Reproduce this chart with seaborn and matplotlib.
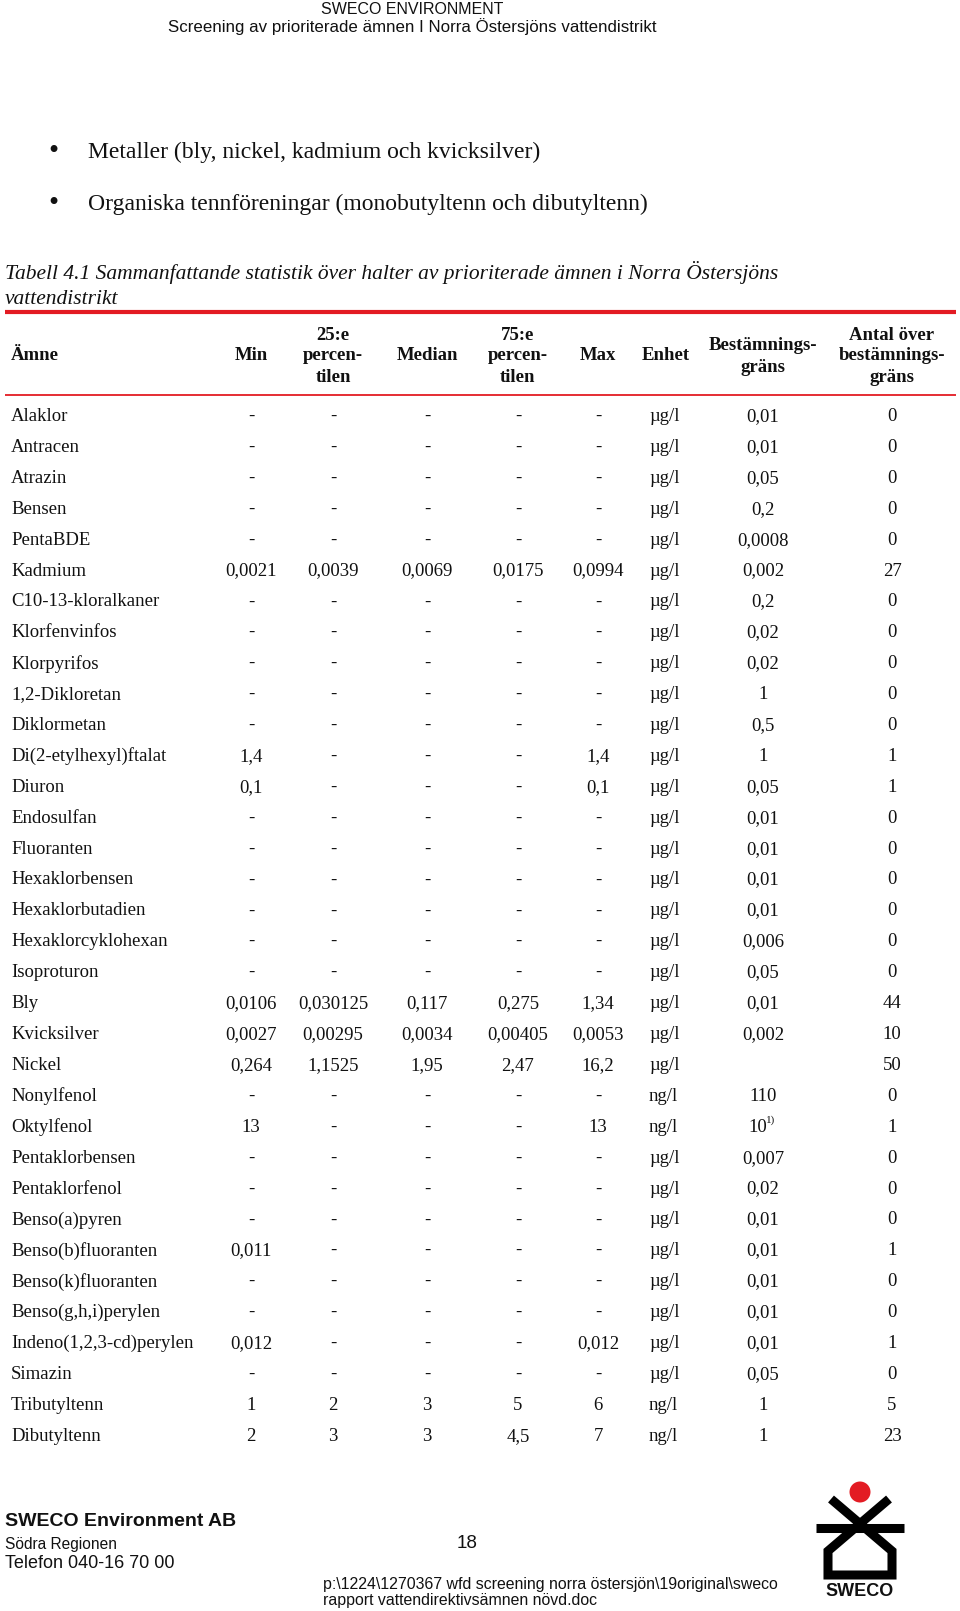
import matplotlib
matplotlib.use("Agg")
import matplotlib.pyplot as plt
from matplotlib import font_manager
from matplotlib.patches import Circle
import seaborn as sns

# ---------------- data ----------------
substances = ["Alaklor", "Antracen", "Atrazin", "Bensen", "PentaBDE", "Kadmium",
              "C10-13-kloralkaner", "Klorfenvinfos", "Klorpyrifos", "1,2-Dikloretan",
              "Diklormetan", "Di(2-etylhexyl)ftalat", "Diuron", "Endosulfan", "Fluoranten",
              "Hexaklorbensen", "Hexaklorbutadien", "Hexaklorcyklohexan", "Isoproturon",
              "Bly", "Kvicksilver", "Nickel", "Nonylfenol", "Oktylfenol", "Pentaklorbensen",
              "Pentaklorfenol", "Benso(a)pyren", "Benso(b)fluoranten", "Benso(k)fluoranten",
              "Benso(g,h,i)perylen", "Indeno(1,2,3-cd)perylen", "Simazin", "Tributyltenn",
              "Dibutyltenn"]
col_min = ["-", "-", "-", "-", "-", "0,0021", "-", "-", "-", "-", "-", "1,4", "0,1", "-", "-",
           "-", "-", "-", "-", "0,0106", "0,0027", "0,264", "-", "13", "-", "-", "-", "0,011",
           "-", "-", "0,012", "-", "1", "2"]
col_p25 = ["-", "-", "-", "-", "-", "0,0039", "-", "-", "-", "-", "-", "-", "-", "-", "-",
           "-", "-", "-", "-", "0,030125", "0,00295", "1,1525", "-", "-", "-", "-", "-", "-",
           "-", "-", "-", "-", "2", "3"]
col_median = ["-", "-", "-", "-", "-", "0,0069", "-", "-", "-", "-", "-", "-", "-", "-", "-",
              "-", "-", "-", "-", "0,117", "0,0034", "1,95", "-", "-", "-", "-", "-", "-",
              "-", "-", "-", "-", "3", "3"]
col_p75 = ["-", "-", "-", "-", "-", "0,0175", "-", "-", "-", "-", "-", "-", "-", "-", "-",
           "-", "-", "-", "-", "0,275", "0,00405", "2,47", "-", "-", "-", "-", "-", "-",
           "-", "-", "-", "-", "5", "4,5"]
col_max = ["-", "-", "-", "-", "-", "0,0994", "-", "-", "-", "-", "-", "1,4", "0,1", "-", "-",
           "-", "-", "-", "-", "1,34", "0,0053", "16,2", "-", "13", "-", "-", "-", "-",
           "-", "-", "0,012", "-", "6", "7"]
col_unit = ["µg/l"] * 22 + ["ng/l", "ng/l"] + ["µg/l"] * 8 + ["ng/l", "ng/l"]
col_limit = ["0,01", "0,01", "0,05", "0,2", "0,0008", "0,002", "0,2", "0,02", "0,02", "1",
             "0,5", "1", "0,05", "0,01", "0,01", "0,01", "0,01", "0,006", "0,05", "0,01",
             "0,002", "", "110", "10", "0,007", "0,02", "0,01", "0,01", "0,01", "0,01",
             "0,01", "0,05", "1", "1"]
limit_note = {23: "1)"}
col_count = ["0", "0", "0", "0", "0", "27", "0", "0", "0", "0", "0", "1", "1", "0", "0",
             "0", "0", "0", "0", "44", "10", "50", "0", "1", "0", "0", "0", "1", "0", "0",
             "1", "0", "5", "23"]

headers = [["Ämne"], ["Min"], ["25:e", "percen-", "tilen"], ["Median"],
           ["75:e", "percen-", "tilen"], ["Max"], ["Enhet"],
           ["Bestämnings-", "gräns"], ["Antal över", "bestämnings-", "gräns"]]

bullets = ["Metaller (bly, nickel, kadmium och kvicksilver)",
           "Organiska tennföreningar (monobutyltenn och dibutyltenn)"]
caption = ["Tabell 4.1 Sammanfattande statistik över halter av prioriterade ämnen i Norra Östersjöns",
           "vattendistrikt"]
page_header = ["SWECO ENVIRONMENT",
               "Screening av prioriterade ämnen I Norra Östersjöns vattendistrikt"]
footer_left = ["SWECO Environment AB", "Södra Regionen", "Telefon 040-16 70 00"]
page_number = "18"
footer_path = ["p:\\1224\\1270367 wfd screening norra östersjön\\19original\\sweco",
               "rapport vattendirektivsämnen növd.doc"]

# ---------------- style ----------------
sns.set_theme(style="white")
avail = {f.name for f in font_manager.fontManager.ttflist}
SERIF = "Liberation Serif" if "Liberation Serif" in avail else "DejaVu Serif"
SANS = "Liberation Sans Narrow" if "Liberation Sans Narrow" in avail else "Liberation Sans"
plt.rcParams["font.family"] = [SERIF, "DejaVu Sans"]

W, H = 960, 1611
fig = plt.figure(figsize=(W / 100, H / 100), dpi=100)
ax = fig.add_axes([0, 0, 1, 1])
ax.set_xlim(0, W)
ax.set_ylim(H, 0)
ax.set_axis_off()
RED = "#e31b23"
TXT = "#111111"

# page header
ax.text(412, 9.5, page_header[0], ha="center", va="center", family=SANS, fontsize=11.5, color=TXT)
ax.text(412, 26.5, page_header[1], ha="center", va="center", family=SANS, fontsize=12.2, color=TXT)

# bullets
for i, b in enumerate(bullets):
    y = 152 + i * 52
    ax.text(53, y, "•", ha="center", va="center", fontsize=21, family=SERIF, color=TXT)
    ax.text(88, y, b, ha="left", va="center", fontsize=17, family=SERIF, color=TXT)

# caption
for i, c in enumerate(caption):
    ax.text(5, 273 + i * 26, c, ha="left", va="center", fontsize=15.5, family=SERIF,
            style="italic", color=TXT)

# rules
ax.plot([5, 956], [311.5, 311.5], color=RED, lw=3.0, solid_capstyle="butt")
ax.plot([5, 956], [394.5, 394.5], color=RED, lw=1.3, solid_capstyle="butt")

# column positions
col_x = [11, 251, 333, 427, 518, 598, 666, 763, 892]
line_y3 = [335, 356, 377]
for j, h in enumerate(headers):
    if len(h) == 1:
        ys = [356]
    elif len(h) == 2:
        ys = [345, 367]
    else:
        ys = line_y3
    for t, y in zip(h, ys):
        ax.text(col_x[j], y, t, ha="left" if j == 0 else "center", va="center",
                fontsize=13.5, fontweight="bold", family=SERIF, color=TXT)

# body
cols = [col_min, col_p25, col_median, col_p75, col_max]
y0, dy = 416.5, 30.9
for i, name in enumerate(substances):
    y = y0 + i * dy
    ax.text(col_x[0], y, name, ha="left", va="center", fontsize=13.5, family=SERIF, color=TXT)
    for j, c in enumerate(cols):
        ax.text(col_x[j + 1], y, c[i], ha="center", va="center", fontsize=13.5,
                family=SERIF, color=TXT)
    ax.text(649, y, col_unit[i], ha="left", va="center", fontsize=13.5, family=SERIF, color=TXT)
    if i in limit_note:
        ax.text(col_x[7] + 4, y, col_limit[i], ha="right", va="center", fontsize=13.5,
                family=SERIF, color=TXT)
        ax.text(col_x[7] + 3, y - 7, limit_note[i], ha="left", va="center", fontsize=8,
                family=SERIF, color=TXT)
    else:
        ax.text(col_x[7], y, col_limit[i], ha="center", va="center", fontsize=13.5,
                family=SERIF, color=TXT)
    ax.text(col_x[8], y, col_count[i], ha="center", va="center", fontsize=13.5,
            family=SERIF, color=TXT)

# footer
ax.text(5, 1522, footer_left[0], ha="left", va="center", family=SANS, fontsize=14,
        fontweight="bold", color=TXT)
ax.text(5, 1545, footer_left[1], ha="left", va="center", family=SANS, fontsize=11.2, color=TXT)
ax.text(5, 1563, footer_left[2], ha="left", va="center", family=SANS, fontsize=13, color=TXT)
ax.text(467, 1544, page_number, ha="center", va="center", family=SANS, fontsize=13.5, color=TXT)
ax.text(323, 1585, footer_path[0], ha="left", va="center", family=SANS, fontsize=11.45, color=TXT)
ax.text(323, 1601, footer_path[1], ha="left", va="center", family=SANS, fontsize=11.45, color=TXT)

# logo
ax.add_patch(Circle((860, 1492), 10.5, color=RED, lw=0))
ax.plot([816, 904], [1528, 1528], color="black", lw=6.5, solid_capstyle="butt")
ax.plot([831, 892, 892, 828, 828, 889], [1499, 1551, 1575, 1575, 1551, 1499],
        color="black", lw=6.5, solid_joinstyle="miter", solid_capstyle="butt")
ax.text(860, 1592, "SWECO", ha="center", va="center", family="Liberation Sans",
        fontsize=13, fontweight="bold", color=TXT)

fig.savefig("out.png", dpi=100, facecolor="white")
